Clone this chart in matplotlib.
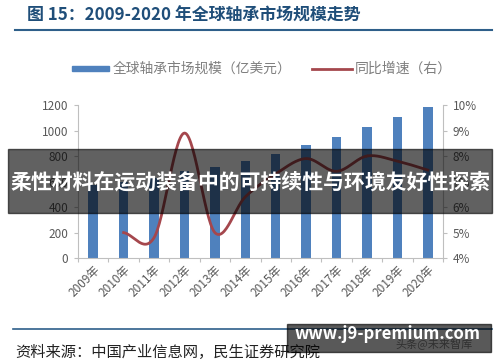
import matplotlib
matplotlib.use("Agg")
from matplotlib import pyplot as plt
from matplotlib.patches import Rectangle
import numpy as np

plt.rcParams['font.family'] = ['Noto Sans CJK SC', 'DejaVu Sans']

years = ['2009年', '2010年', '2011年', '2012年', '2013年', '2014年',
         '2015年', '2016年', '2017年', '2018年', '2019年', '2020年']
market = [570, 599, 627, 683, 717, 763, 819, 883, 949, 1025, 1105, 1187]
growth_years = years[1:]
growth = [5.0, 4.8, 8.9, 5.0, 6.4, 7.3, 7.9, 7.4, 8.0, 7.8, 7.45]

bar_color = '#4F81BD'
line_color = '#A5474D'


def smooth(xs, ys, n=30):
    # catmull-rom style curve through the points, like excel's smoothed line
    xs = np.asarray(xs, float)
    ys = np.asarray(ys, float)
    px = np.concatenate([[2 * xs[0] - xs[1]], xs, [2 * xs[-1] - xs[-2]]])
    py = np.concatenate([[2 * ys[0] - ys[1]], ys, [2 * ys[-1] - ys[-2]]])
    out_x, out_y = [], []
    t = np.linspace(0, 1, n)
    for i in range(1, len(px) - 2):
        for arr, out in ((px, out_x), (py, out_y)):
            p0, p1, p2, p3 = arr[i - 1], arr[i], arr[i + 1], arr[i + 2]
            out.extend(0.5 * ((2 * p1) + (-p0 + p2) * t
                              + (2 * p0 - 5 * p1 + 4 * p2 - p3) * t ** 2
                              + (-p0 + 3 * p1 - 3 * p2 + p3) * t ** 3))
    return np.array(out_x), np.array(out_y)


fig = plt.figure(figsize=(5, 3.62), dpi=100)
ax = fig.add_axes([0.156, 0.287, 0.73, 0.423])
x = np.arange(len(years))
ax.bar(x, market, width=0.31, color=bar_color, zorder=2)
ax.set_xlim(-0.5, len(years) - 0.5)
ax.set_ylim(0, 1200)
ax.set_yticks(range(0, 1201, 200))
ax.set_xticks(np.arange(len(years) + 1) - 0.5)
ax.set_xticklabels([])
ax.set_xticks(x, minor=True)
ax.set_xticklabels(years, minor=True, rotation=45, ha='right', va='top',
                   rotation_mode='anchor')
ax.tick_params(axis='x', which='minor', length=0, pad=4, labelsize=8.5, labelcolor='#595959')
ax.tick_params(axis='x', which='major', length=3, color='#BFBFBF')
ax.tick_params(axis='y', length=3, color='#BFBFBF', labelsize=8.5, labelcolor='#595959', pad=4)
for s in ['top', 'right']:
    ax.spines[s].set_visible(False)
for s in ['left', 'bottom']:
    ax.spines[s].set_color('#BFBFBF')
    ax.spines[s].set_linewidth(0.8)

ax2 = ax.twinx()
ax2.set_ylim(4, 10)
ax2.set_yticks(range(4, 11))
ax2.set_yticklabels([f'{v}%' for v in range(4, 11)])
ax2.tick_params(axis='y', length=3, color='#BFBFBF', labelsize=8.5, labelcolor='#595959', pad=4)
for s in ['top', 'left', 'bottom']:
    ax2.spines[s].set_visible(False)
ax2.spines['right'].set_color('#BFBFBF')
ax2.spines['right'].set_linewidth(0.8)
gx = [years.index(y) for y in growth_years]
sx, sy = smooth(gx, growth)
ax2.plot(sx, sy, color=line_color, lw=2, zorder=3)

# legend
fig.patches.append(Rectangle((72 / 500, 1 - 70.5 / 362), 37 / 500, 4.5 / 362,
                             transform=fig.transFigure, color=bar_color))
fig.text(113 / 500, 1 - 69 / 362, '全球轴承市场规模（亿美元）', fontsize=9.9,
         color='#7F7F7F', va='center')
fig.lines.append(plt.Line2D([312 / 500, 352 / 500], [1 - 68.5 / 362] * 2,
                            transform=fig.transFigure, color=line_color, lw=2))
fig.text(355 / 500, 1 - 69 / 362, '同比增速（右）', fontsize=10,
         color='#7F7F7F', va='center')

# title and frame lines
fig.text(27 / 500, 1 - 16 / 362, '图 15：2009-2020 年全球轴承市场规模走势', fontsize=12.2,
         fontweight='bold', color='#1F4E79', va='center')
fig.lines.append(plt.Line2D([15 / 500, 492 / 500], [1 - 30 / 362] * 2,
                            transform=fig.transFigure, color='#2E5F8A', lw=1.5))
fig.lines.append(plt.Line2D([13 / 500, 492 / 500], [1 - 329 / 362] * 2,
                            transform=fig.transFigure, color='#2E5F8A', lw=1.2))
fig.text(15 / 500, 1 - 352 / 362, '资料来源：中国产业信息网，民生证券研究院', fontsize=11,
         color='#222222', va='center')
fig.text(395 / 500, 1 - 344 / 362, '头条@未来智库', fontsize=8, color='#888888', va='center')

# overlays
fig.patches.append(Rectangle((8 / 500, 1 - 213 / 362), 484 / 500, 64 / 362,
                             transform=fig.transFigure, color='black', alpha=0.62, zorder=10))
fig.text(250 / 500, 1 - 182 / 362, '柔性材料在运动装备中的可持续性与环境友好性探索',
         fontsize=15, fontweight='bold', color='white', ha='center', va='center', zorder=11)
fig.patches.append(Rectangle((287 / 500, 1 - 352 / 362), 204 / 500, 28 / 362,
                             transform=fig.transFigure, color='black', alpha=0.65, zorder=10))
fig.text(388 / 500, 1 - 334 / 362, 'www.j9-premium.com', fontsize=12,
         fontweight='bold', color='white', ha='center', va='center', zorder=11)

fig.savefig('out.png', dpi=100)
